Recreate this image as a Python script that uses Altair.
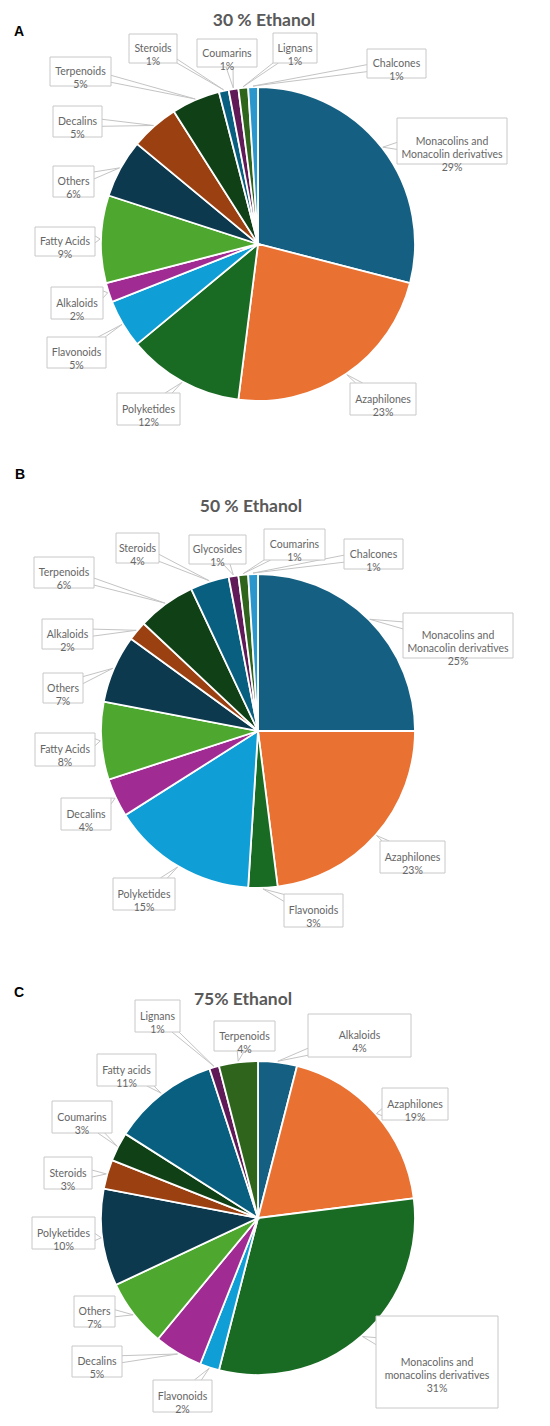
import math
import altair as alt
import pandas as pd

# ---------------- data ----------------
a_names = ["Monacolins and\nMonacolin derivatives", "Azaphilones", "Polyketides", "Flavonoids",
           "Alkaloids", "Fatty Acids", "Others", "Decalins", "Terpenoids", "Steroids",
           "Coumarins", "Lignans", "Chalcones"]
a_values = [29, 23, 12, 5, 2, 9, 6, 5, 5, 1, 1, 1, 1]

b_names = ["Monacolins and\nMonacolin derivatives", "Azaphilones", "Flavonoids", "Polyketides",
           "Decalins", "Fatty Acids", "Others", "Alkaloids", "Terpenoids", "Steroids",
           "Glycosides", "Coumarins", "Chalcones"]
b_values = [25, 23, 3, 15, 4, 8, 7, 2, 6, 4, 1, 1, 1]

c_names = ["Alkaloids", "Azaphilones", "Monacolins and\nmonacolins derivatives", "Flavonoids",
           "Decalins", "Others", "Polyketides", "Steroids", "Coumarins", "Fatty acids",
           "Lignans", "Terpenoids"]
c_values = [4, 19, 31, 2, 5, 7, 10, 3, 3, 11, 1, 4]

titles = ["30 % Ethanol", "50 % Ethanol", "75% Ethanol"]
letters = ["A", "B", "C"]

# Office palette order (accents, then darker accents, then lighter accent 1)
palette = ["#156082", "#E97132", "#196B24", "#0F9ED5", "#A02B93", "#4EA72E",
           "#0D394E", "#9A4011", "#0F4016", "#095F80", "#601A58", "#2F641C", "#2A96CC"]

# ---------------- layout (page pixels) ----------------
OFF = 8
W, H = 534, 1410
R = 157
centers = [(258, 244), (258, 731), (258, 1218)]
title_pos = [(264, 25.5), (251, 512), (243, 1005)]   # alphabetic baselines
letter_pos = [(19, 32), (20, 475), (19, 993)]

boxes_a = [(397, 507, 118, 164), (350, 416, 383, 415), (117, 180, 393, 425), (47, 106, 337, 368),
           (51, 103, 287, 319), (35, 95, 227, 256), (53, 94, 166, 197), (53, 102, 106, 137),
           (50, 111, 57, 86), (129, 177, 34, 63), (197, 257, 39, 67), (273, 317, 33, 63),
           (367, 426, 49, 78)]
boxes_b = [(403, 513, 613, 658), (380, 445, 841, 873), (284, 343, 894, 927), (113, 175, 878, 910),
           (61, 111, 798, 830), (35, 95, 733, 766), (43, 83, 673, 703), (42, 93, 619, 649),
           (34, 94, 557, 588), (116, 159, 533, 563), (189, 246, 535, 564), (264, 325, 529, 560),
           (344, 403, 539, 569)]
boxes_c = [(308, 411, 1014, 1057), (382, 448, 1088, 1120), (376, 498, 1316, 1408),
           (153, 212, 1380, 1412), (72, 122, 1346, 1377), (74, 115, 1296, 1327),
           (32, 95, 1217, 1249), (44, 92, 1157, 1189), (52, 112, 1101, 1133),
           (97, 156, 1054, 1086), (135, 180, 1000, 1032), (214, 275, 1021, 1051)]

panels = [(a_names, a_values, boxes_a), (b_names, b_values, boxes_b), (c_names, c_values, boxes_c)]

xs = alt.Scale(domain=[0, W], range=[0, W])
ys = alt.Scale(domain=[0, H], range=[0, H])

arc_layers = []
box_rows, line_rows, text_rows = [], [], []
for p, (names, values, boxes) in enumerate(panels):
    cx, cy = centers[p]
    arc_df = pd.DataFrame({"name": names, "value": values, "idx": list(range(len(values))),
                           "color": palette[:len(values)]})
    arc_layers.append(
        alt.Chart(arc_df).mark_arc(radius=R, stroke="white", strokeWidth=1.8).encode(
            theta=alt.Theta("value:Q", stack=True),
            order=alt.Order("idx:Q"),
            color=alt.Color("color:N", scale=None, legend=None),
            x=alt.value(cx - OFF), y=alt.value(cy - OFF),
        )
    )
    total = float(sum(values))
    cum = 0.0
    for i, (n, v, b) in enumerate(zip(names, values, boxes)):
        mid = (cum + v / 2.0) / total * 2 * math.pi
        cum += v
        tx = cx + (R + 1) * math.sin(mid)
        ty = cy - (R + 1) * math.cos(mid)
        x1, x2, y1, y2 = b
        bx, by = (x1 + x2) / 2.0, (y1 + y2) / 2.0
        hw, hh = (x2 - x1) / 2.0, (y2 - y1) / 2.0
        dx, dy = tx - bx, ty - by
        sx = hw / abs(dx) if dx else 1e9
        sy = hh / abs(dy) if dy else 1e9
        s = min(sx, sy)
        if s < 1:
            ex, ey = bx + dx * s, by + dy * s
            if sx < sy:
                p1 = (ex, max(y1, ey - 3.5)); p2 = (ex, min(y2, ey + 3.5))
            else:
                p1 = (max(x1, ex - 3.5), ey); p2 = (min(x2, ex + 3.5), ey)
            lid = f"{p}-{i}"
            for k, (px, py) in enumerate([p1, (tx, ty), p2]):
                line_rows.append({"id": lid, "seq": k, "x": px - OFF, "y": py - OFF})
        box_rows.append({"x": x1 - OFF, "x2": x2 - OFF, "y": y1 - OFF, "y2": y2 - OFF})
        text_rows.append({"x": bx - OFF, "y": by - OFF + 0.5, "t": f"{n}\n{v}%"})

lines = alt.Chart(pd.DataFrame(line_rows)).mark_line(color="#c4c4c4", strokeWidth=1).encode(
    x=alt.X("x:Q", scale=xs, axis=None), y=alt.Y("y:Q", scale=ys, axis=None),
    detail="id:N", order="seq:Q")

boxes = alt.Chart(pd.DataFrame(box_rows)).mark_rect(fill="white", stroke="#c8c8c8", strokeWidth=1).encode(
    x=alt.X("x:Q", scale=xs, axis=None), x2="x2:Q",
    y=alt.Y("y:Q", scale=ys, axis=None), y2="y2:Q")

texts = alt.Chart(pd.DataFrame(text_rows)).mark_text(
    font="Lato", fontSize=10.5, color="#666666", lineBreak="\n", lineHeight=13,
    align="center", baseline="middle").encode(
    x=alt.X("x:Q", scale=xs, axis=None), y=alt.Y("y:Q", scale=ys, axis=None), text="t:N")

title_df = pd.DataFrame({"x": [t[0] - OFF for t in title_pos], "y": [t[1] - OFF for t in title_pos],
                         "t": titles})
title_layer = alt.Chart(title_df).mark_text(
    font="Lato", fontSize=17.5, fontWeight="bold", color="#595959", align="center",
    baseline="alphabetic").encode(
    x=alt.X("x:Q", scale=xs, axis=None), y=alt.Y("y:Q", scale=ys, axis=None), text="t:N")

letter_df = pd.DataFrame({"x": [t[0] - OFF for t in letter_pos], "y": [t[1] - OFF for t in letter_pos],
                          "t": letters})
letter_layer = alt.Chart(letter_df).mark_text(
    font="Liberation Sans", fontSize=14, fontWeight="bold", color="#000000", align="center",
    baseline="middle").encode(
    x=alt.X("x:Q", scale=xs, axis=None), y=alt.Y("y:Q", scale=ys, axis=None), text="t:N")

chart = alt.layer(*arc_layers, lines, boxes, texts, title_layer, letter_layer).properties(
    width=W, height=H, padding=0, autosize=alt.AutoSizeParams(type="none"),
    background="white"
).configure_view(stroke=None)

chart.save("out.html", embed_options={"renderer": "svg", "actions": False})
